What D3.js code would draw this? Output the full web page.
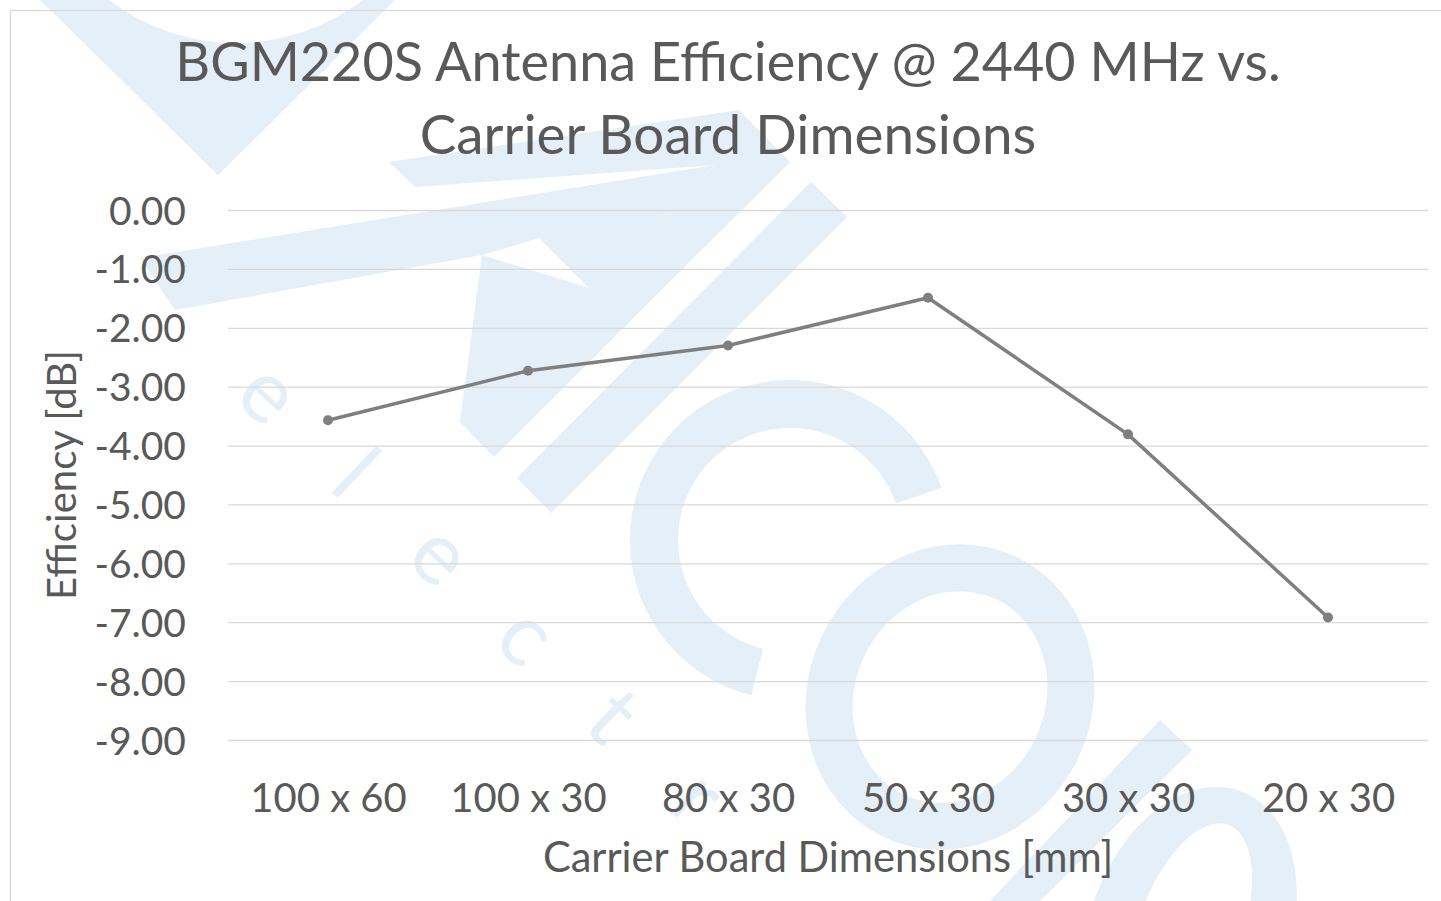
<!DOCTYPE html>
<html>
<head>
<meta charset="utf-8">
<script src="https://cdn.jsdelivr.net/npm/d3@7"></script>
<style>
    body { margin: 0; background: #fff; }
    svg { display: block; }
    text { font-family: Lato, "Open Sans", sans-serif; fill: #595959; }
</style>
</head>
<body>
<svg id="chart"></svg>
<script>
"use strict";

// chart data
var categories = ['100 x 60', '100 x 30', '80 x 30', '50 x 30', '30 x 30', '20 x 30'];
var efficiency = [-3.57, -2.73, -2.30, -1.49, -3.81, -6.92];
var yTicks = [0, -1, -2, -3, -4, -5, -6, -7, -8, -9];
var titleLines = ['BGM220S Antenna Efficiency @ 2440 MHz vs.', 'Carrier Board Dimensions'];
var xTitle = 'Carrier Board Dimensions [mm]';
var yTitle = 'Efficiency [dB]';

var width = 1441, height = 901;
var plot = { left: 228, right: 1428, top: 210, bottom: 740 };

var svg = d3.select('#chart')
    .attr('width', width)
    .attr('height', height);

svg.append('rect')
    .attr('width', width)
    .attr('height', height)
    .attr('fill', '#fff');

// --- watermark behind the chart ---
var wm = svg.append('g').attr('class', 'watermark').attr('fill', '#e4eff8');

// big V with a round notch on top
wm.append('path')
    .attr('fill-rule', 'evenodd')
    .attr('d', 'M40,0 L395,0 L218,175 Z ' +
        'M445,-166 A209,209 0 1,0 27,-166 A209,209 0 1,0 445,-166 Z');

// rising band + diagonal strokes
wm.append('polygon')
    .attr('points', '140,258 715,165 589,288 539,238 482,255 175,310');
wm.append('polygon')
    .attr('points', '389,162 739,110 790,162 494,457 460,422 482,255 589,288 715,165 415,187');
wm.append('polygon')
    .attr('points', '811,182 847,217 551,513 517,478');
wm.append('polygon')
    .attr('points', '1160,720 1192,750 1040,901 990,901');

// big C
var cArc = d3.arc()
    .innerRadius(112)
    .outerRadius(160)
    .startAngle(194 * Math.PI / 180)
    .endAngle(431 * Math.PI / 180);
wm.append('path')
    .attr('transform', 'translate(790,540)')
    .attr('d', cArc());

// tilted rings
function ring(cx, cy, rx, ry, irx, iry, rot) {
    wm.append('path')
        .attr('fill-rule', 'evenodd')
        .attr('transform', 'translate(' + cx + ',' + cy + ') rotate(' + rot + ')')
        .attr('d', 'M' + (-rx) + ',0 A' + rx + ',' + ry + ' 0 1,0 ' + rx + ',0 A' + rx + ',' + ry + ' 0 1,0 ' + (-rx) + ',0 Z ' +
            'M' + (-irx) + ',0 A' + irx + ',' + iry + ' 0 1,0 ' + irx + ',0 A' + irx + ',' + iry + ' 0 1,0 ' + (-irx) + ',0 Z');
}
ring(950, 697, 142, 155, 95, 108, 25);
ring(1190, 930, 100, 148, 52, 112, 20);

// small letters along the diagonal
var wmLetters = 'electr'.split('');
var ang = 43.3 * Math.PI / 180;
wm.selectAll('text.wm')
    .data(wmLetters)
    .enter()
    .append('text')
    .attr('class', 'wm')
    .attr('text-anchor', 'middle')
    .attr('dy', '0.35em')
    .style('fill', '#e4eff8')
    .style('font-size', '88px')
    .attr('transform', (d, i) => {
        var x = 270 + i * 118 * Math.cos(ang);
        var y = 392 + i * 118 * Math.sin(ang);
        return 'translate(' + x + ',' + y + ') rotate(43.3)';
    })
    .text(d => d);

// chart border
svg.append('rect')
    .attr('x', 10.5)
    .attr('y', 10.5)
    .attr('width', width)
    .attr('height', height)
    .attr('fill', 'none')
    .attr('stroke', '#d9d9d9')
    .attr('stroke-width', 1.3);

// --- scales ---
var x = d3.scalePoint()
    .domain(categories)
    .range([plot.left, plot.right])
    .padding(0.5);

var y = d3.scaleLinear()
    .domain([-9, 0])
    .range([plot.bottom, plot.top]);

// y axis with gridlines
var yAxis = svg.append('g')
    .attr('transform', 'translate(' + plot.left + ',0)')
    .call(d3.axisLeft(y)
        .tickValues(yTicks)
        .tickSize(-(plot.right - plot.left))
        .tickPadding(42)
        .tickFormat(d => d.toFixed(2)));

yAxis.select('.domain').remove();
yAxis.selectAll('.tick line')
    .attr('stroke', '#d9d9d9')
    .attr('stroke-width', 1.3);
yAxis.selectAll('.tick text')
    .attr('dy', '0.36em')
    .attr('fill', '#595959')
    .style('font-family', 'Lato, "Open Sans", sans-serif')
    .style('font-size', '39px');

// category axis, labels sit below the plot
var xAxis = svg.append('g')
    .attr('transform', 'translate(0,' + plot.bottom + ')')
    .call(d3.axisBottom(x).tickSize(0));

xAxis.select('.domain').remove();
xAxis.selectAll('.tick text')
    .attr('y', 72)
    .attr('dy', 0)
    .attr('fill', '#595959')
    .style('font-family', 'Lato, "Open Sans", sans-serif')
    .style('font-size', '40px');

// --- series ---
var points = categories.map((c, i) => ({ cat: c, val: efficiency[i] }));

var line = d3.line()
    .x(d => x(d.cat))
    .y(d => y(d.val));

svg.append('path')
    .datum(points)
    .attr('fill', 'none')
    .attr('stroke', '#7f7f7f')
    .attr('stroke-width', 3.5)
    .attr('stroke-linejoin', 'round')
    .attr('d', line);

svg.selectAll('circle.marker')
    .data(points)
    .enter()
    .append('circle')
    .attr('class', 'marker')
    .attr('cx', d => x(d.cat))
    .attr('cy', d => y(d.val))
    .attr('r', 5)
    .attr('fill', '#7f7f7f');

// --- titles ---
function fitWidth(sel, target) {
    var base = 50;
    sel.style('font-size', base + 'px');
    var len = sel.node().getComputedTextLength();
    sel.style('font-size', (base * target / len).toFixed(1) + 'px');
}

var t1 = svg.append('text')
    .attr('x', 728)
    .attr('y', 81)
    .attr('text-anchor', 'middle')
    .text(titleLines[0]);
fitWidth(t1, 1105);

var t2 = svg.append('text')
    .attr('x', 728)
    .attr('y', 154)
    .attr('text-anchor', 'middle')
    .text(titleLines[1]);
fitWidth(t2, 617);

var xt = svg.append('text')
    .attr('x', (plot.left + plot.right) / 2)
    .attr('y', 872)
    .attr('text-anchor', 'middle')
    .text(xTitle);
fitWidth(xt, 571);

var yt = svg.append('text')
    .attr('transform', 'translate(76,' + ((plot.top + plot.bottom) / 2) + ') rotate(-90)')
    .attr('text-anchor', 'middle')
    .text(yTitle);
fitWidth(yt, 250);
</script>
</body>
</html>
